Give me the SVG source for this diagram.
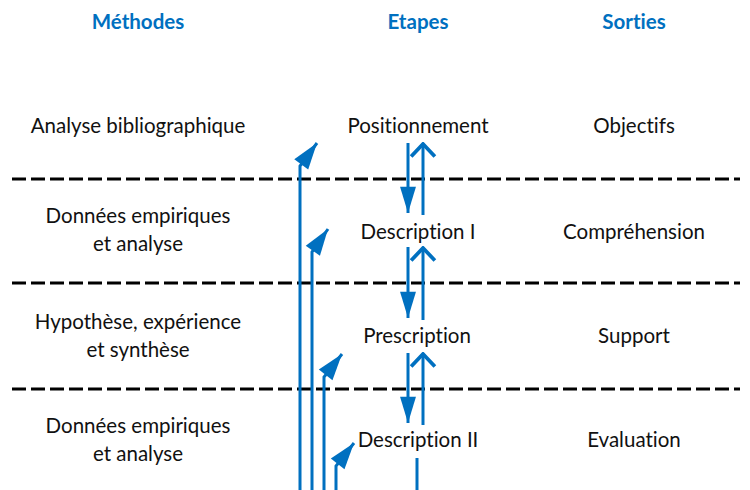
<svg xmlns="http://www.w3.org/2000/svg" width="750" height="490" viewBox="0 0 750 490">
<style>
text{font-family:Lato,"Open Sans","Liberation Sans",sans-serif;font-size:20.5px;fill:#111;text-anchor:middle;font-variant-ligatures:none;font-feature-settings:"liga" 0}
.hdr{fill:#0070C0;font-weight:bold}
.dash{stroke:#000;stroke-width:3;stroke-dasharray:14 5;fill:none}
.ln{stroke:#0070C0;stroke-width:3;fill:none}
</style>
<defs>
<marker id="tri" markerUnits="userSpaceOnUse" markerWidth="30" markerHeight="20" viewBox="-24 -8 26 16" refX="0" refY="0" orient="auto">
<path d="M0,0 L-23,-7.5 L-23,7.5 Z" fill="#0070C0"/>
</marker>
<marker id="down" markerUnits="userSpaceOnUse" markerWidth="30" markerHeight="20" viewBox="-30 -9 32 18" refX="0" refY="0" orient="auto">
<path d="M0,0 L-28,-8.5 L-28,8.5 Z" fill="#0070C0"/>
</marker>
<marker id="open" markerUnits="userSpaceOnUse" markerWidth="20" markerHeight="30" viewBox="-14 -12 16 24" refX="0" refY="0" orient="auto">
<path d="M-10,-9.5 L0,0 L-10,9.5" fill="none" stroke="#0070C0" stroke-width="3"/>
</marker>
</defs>
<g id="headers">
<text class="hdr" x="138" y="29">Méthodes</text>
<text class="hdr" x="418" y="29">Etapes</text>
<text class="hdr" x="634" y="29">Sorties</text>
</g>
<g id="separators">
<line class="dash" x1="12" y1="179" x2="740" y2="179"/>
<line class="dash" x1="12" y1="283" x2="740" y2="283"/>
<line class="dash" x1="12" y1="389" x2="740" y2="389"/>
</g>
<g id="methode1"><text x="138" y="133">Analyse bibliographique</text></g>
<g id="methode2"><text x="138" y="223">Données empiriques</text><text x="138" y="251">et analyse</text></g>
<g id="methode3"><text x="138" y="329">Hypothèse, expérience</text><text x="138" y="357">et synthèse</text></g>
<g id="methode4"><text x="138" y="433">Données empiriques</text><text x="138" y="461">et analyse</text></g>
<g id="etape1"><text x="418" y="133">Positionnement</text></g>
<g id="etape2"><text x="418" y="239">Description I</text></g>
<g id="etape3"><text x="417" y="343">Prescription</text></g>
<g id="etape4"><text x="418" y="447">Description II</text></g>
<g id="sortie1"><text x="634" y="133">Objectifs</text></g>
<g id="sortie2"><text x="634" y="239">Compréhension</text></g>
<g id="sortie3"><text x="634" y="343">Support</text></g>
<g id="sortie4"><text x="634" y="447">Evaluation</text></g>
<g id="connectors">
<path class="ln" d="M300,490 V166 L317,143" marker-end="url(#tri)"/>
<path class="ln" d="M312,490 V252 L328,229" marker-end="url(#tri)"/>
<path class="ln" d="M324,490 V377 L342,354" marker-end="url(#tri)"/>
<path class="ln" d="M336,490 V466 L354,443" marker-end="url(#tri)"/>
<path class="ln" d="M408,143 V213" marker-end="url(#down)"/>
<path class="ln" d="M423,215 V144" marker-end="url(#open)"/>
<path class="ln" d="M408,247 V318" marker-end="url(#down)"/>
<path class="ln" d="M423,320 V248" marker-end="url(#open)"/>
<path class="ln" d="M408,353 V423" marker-end="url(#down)"/>
<path class="ln" d="M423,425 V354" marker-end="url(#open)"/>
<path class="ln" d="M417,458 V490"/>
</g>
</svg>
